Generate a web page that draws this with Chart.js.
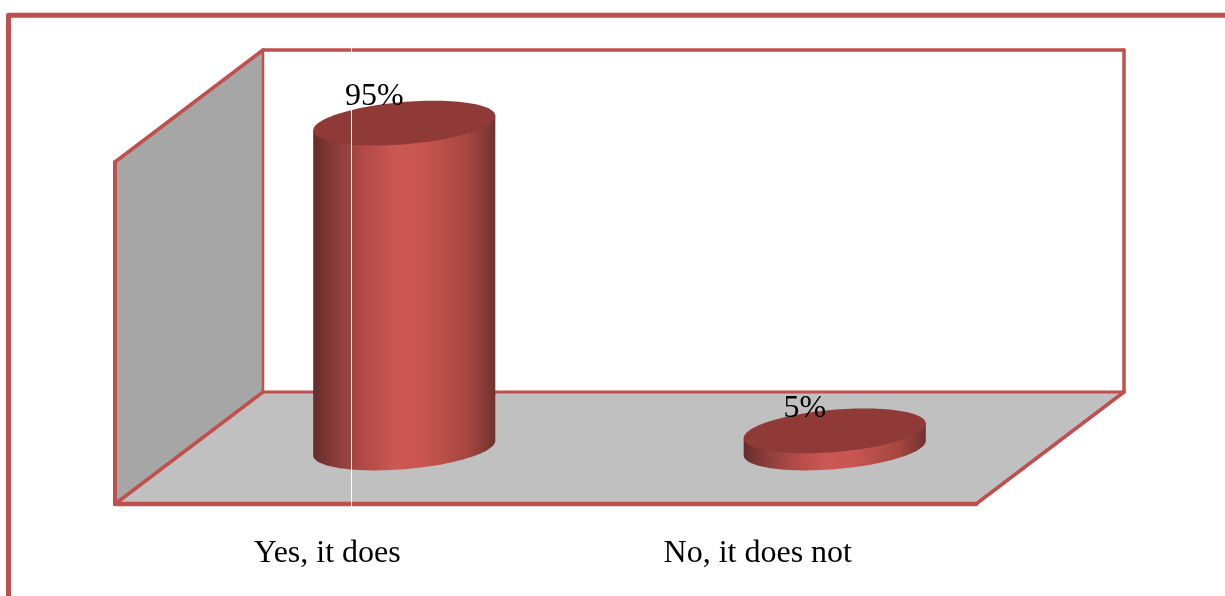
<!DOCTYPE html>
<html>
<head>
<meta charset="utf-8">
<title>Cylinder chart</title>
<script src="https://cdn.jsdelivr.net/npm/chart.js@4"></script>
<style>
  html, body { margin: 0; background: #fff; }
  canvas { display: block; }
</style>
</head>
<body>
<canvas id="surveyChart" width="1225" height="596"></canvas>
<script>
const categories = ['Yes, it does', 'No, it does not'];
const shares = [95, 5];
const shareLabels = ['95%', '5%'];

const RED = '#c0504d';
const WALL = '#a6a6a6';
const FLOOR = '#c0c0c0';
const SERIF = '"Liberation Serif", "Times New Roman", serif';

// half of the box depth, as a screen offset
const DEPTH_X = 74;
const DEPTH_Y = 56;
// cylinder depth radius, as a share of the full box depth
const DISC_DEPTH = 0.2;
// text above each cap, px from the cap centre
const LABEL_LIFT = [18, 14];

function polygon(ctx, pts) {
  ctx.beginPath();
  pts.forEach((p, i) => (i ? ctx.lineTo(p[0], p[1]) : ctx.moveTo(p[0], p[1])));
  ctx.closePath();
}

function edge(ctx, width, x1, y1, x2, y2) {
  ctx.lineWidth = width;
  ctx.beginPath();
  ctx.moveTo(x1, y1);
  ctx.lineTo(x2, y2);
  ctx.stroke();
}

// sheared circle lying in the floor plane
function discPoint(cx, cy, r, t) {
  const dx = DISC_DEPTH * 2 * DEPTH_X;
  const dy = DISC_DEPTH * 2 * DEPTH_Y;
  return [cx + r * Math.cos(t) + dx * Math.sin(t), cy - dy * Math.sin(t)];
}

function drawCylinder(ctx, cx, topY, baseY, r) {
  const tilt = Math.atan2(DISC_DEPTH * 2 * DEPTH_X, r);
  const left = discPoint(cx, topY, r, tilt + Math.PI)[0];
  const right = discPoint(cx, topY, r, tilt)[0];

  const side = ctx.createLinearGradient(left, 0, right, 0);
  side.addColorStop(0, '#642d2b');
  side.addColorStop(0.12, '#8a3c3a');
  side.addColorStop(0.3, '#b54c49');
  side.addColorStop(0.45, '#cc5753');
  side.addColorStop(0.6, '#c85551');
  side.addColorStop(0.85, '#a5473f');
  side.addColorStop(1, '#6f3230');

  const pts = [discPoint(cx, topY, r, tilt + Math.PI)];
  for (let i = 0; i <= 60; i++) {
    pts.push(discPoint(cx, baseY, r, tilt + Math.PI + Math.PI * i / 60));
  }
  pts.push(discPoint(cx, topY, r, tilt));
  polygon(ctx, pts);
  ctx.fillStyle = side;
  ctx.fill();

  const cap = [];
  for (let i = 0; i < 120; i++) cap.push(discPoint(cx, topY, r, Math.PI * i / 60));
  polygon(ctx, cap);
  ctx.fillStyle = '#8f3a37';
  ctx.fill();
}

const boxPlugin = {
  id: 'box3d',
  beforeDatasetsDraw(chart) {
    const { ctx, chartArea: a } = chart;
    const backL = a.left + DEPTH_X, backR = a.right + DEPTH_X;
    const backT = a.top - DEPTH_Y, backB = a.bottom - DEPTH_Y;
    const frontL = a.left - DEPTH_X, frontR = a.right - DEPTH_X;
    const frontT = a.top + DEPTH_Y, frontB = a.bottom + DEPTH_Y;

    ctx.save();
    ctx.strokeStyle = RED;
    ctx.lineCap = 'round';
    ctx.lineJoin = 'round';

    // outer frame runs off the top right and bottom left
    ctx.lineWidth = 5;
    ctx.beginPath();
    ctx.moveTo(8.5, 600);
    ctx.lineTo(8.5, 15.2);
    ctx.lineTo(1230, 15.2);
    ctx.stroke();

    polygon(ctx, [[frontL, frontB], [backL, backB], [backR, backB], [frontR, frontB]]);
    ctx.fillStyle = FLOOR;
    ctx.fill();
    polygon(ctx, [[frontL, frontT], [backL, backT], [backL, backB], [frontL, frontB]]);
    ctx.fillStyle = WALL;
    ctx.fill();

    edge(ctx, 3.5, backL, backT, backR, backT);
    edge(ctx, 3.5, backR, backT, backR, backB);
    edge(ctx, 3, backL, backB, backR, backB);
    edge(ctx, 2.5, backL, backT, backL, backB);
    edge(ctx, 3.5, frontL, frontT, backL, backT);
    edge(ctx, 4, frontL, frontT, frontL, frontB);
    edge(ctx, 3.5, frontL, frontB, backL, backB);
    edge(ctx, 3.5, frontR, frontB, backR, backB);
    edge(ctx, 4.5, frontL, frontB, frontR, frontB);
    ctx.restore();
  },
  afterDatasetsDraw(chart) {
    const { ctx } = chart;
    const bars = chart.getDatasetMeta(0).data;

    ctx.save();
    bars.forEach((bar) => drawCylinder(ctx, bar.x, bar.y, bar.base, bar.width / 2));

    // hairline seam through the left part of the plot
    ctx.fillStyle = '#fff';
    ctx.fillRect(351, 46, 1, 461);

    ctx.fillStyle = '#000';
    ctx.font = '32px ' + SERIF;
    ctx.textAlign = 'center';
    ctx.textBaseline = 'alphabetic';
    bars.forEach((bar, i) => {
      ctx.fillText(shareLabels[i], bar.x - 30, bar.y - LABEL_LIFT[i]);
    });
    ctx.restore();
  }
};

new Chart(document.getElementById('surveyChart'), {
  type: 'bar',
  data: {
    labels: categories,
    datasets: [{
      data: shares,
      backgroundColor: 'rgba(0,0,0,0)',
      barPercentage: 1,
      categoryPercentage: 0.4
    }]
  },
  options: {
    responsive: false,
    animation: false,
    layout: { padding: { left: 189, right: 175, top: 106, bottom: 0 } },
    plugins: { legend: { display: false }, tooltip: { enabled: false } },
    scales: {
      x: {
        grid: { display: false },
        border: { display: false },
        afterFit(scale) { scale.height = 148; },
        ticks: {
          color: '#000',
          font: { family: SERIF, size: 32 },
          padding: 78,
          labelOffset: -77,
          maxRotation: 0
        }
      },
      y: { display: false, min: 0, max: 100 }
    }
  },
  plugins: [boxPlugin]
});
</script>
</body>
</html>
